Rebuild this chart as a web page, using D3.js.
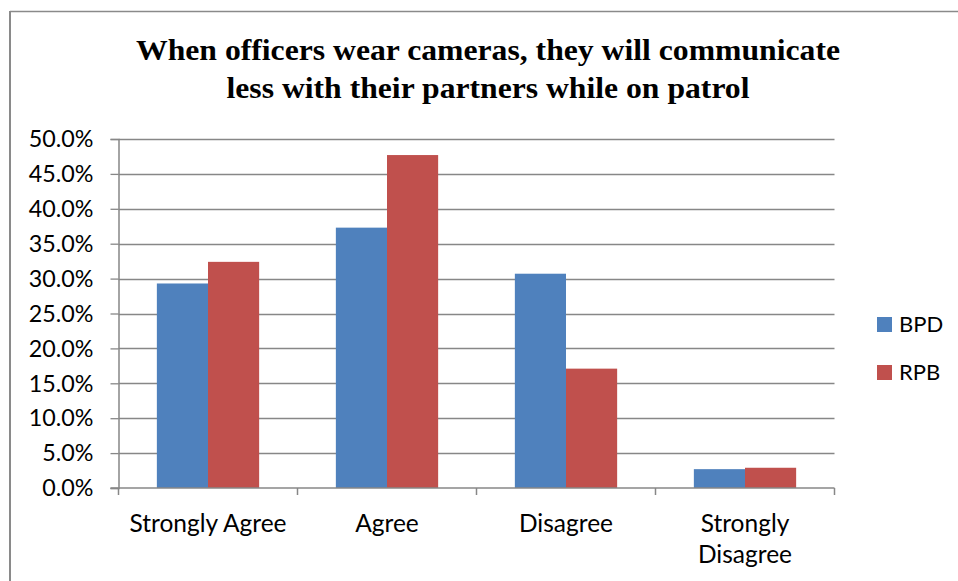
<!DOCTYPE html>
<html>
<head>
<meta charset="utf-8">
<script src="https://cdn.jsdelivr.net/npm/d3@7"></script>
<style>
  html, body { margin: 0; padding: 0; background: #fff; }
  svg { display: block; }
</style>
</head>
<body>
<svg id="chart" width="958" height="581"></svg>
<script>
// Survey responses, percent of officers
const categories = ["Strongly Agree", "Agree", "Disagree", "Strongly Disagree"];
const seriesNames = ["BPD", "RPB"];
const bpdValues = [29.3, 37.3, 30.7, 2.7];
const rpbValues = [32.4, 47.7, 17.1, 2.9];
const yTicks = [0, 5, 10, 15, 20, 25, 30, 35, 40, 45, 50];
const titleLines = [
  "When officers wear cameras, they will communicate",
  "less with their partners while on patrol"
];
const titleWidths = [704, 523];
const colors = { BPD: "#4F81BD", RPB: "#C0504D" };

const rows = categories.map((c, i) => ({ category: c, BPD: bpdValues[i], RPB: rpbValues[i] }));

const svg = d3.select("#chart");
const plot = { left: 118.5, right: 834.5, top: 139, bottom: 488 };
const labelFont = "Lato, 'Open Sans', sans-serif";
const gridColor = "#878787";

// chart frame edges
svg.append("line").attr("x1", 10).attr("x2", 958).attr("y1", 11.5).attr("y2", 11.5)
  .attr("stroke", "#8a8a8a").attr("stroke-width", 1.5);
svg.append("line").attr("x1", 10).attr("x2", 10).attr("y1", 11).attr("y2", 581)
  .attr("stroke", "#8a8a8a").attr("stroke-width", 2);

// title, slightly widened serif lines
svg.append("g").selectAll("text").data(titleLines).join("text")
  .attr("x", 488).attr("y", (d, i) => 59.5 + i * 38)
  .attr("text-anchor", "middle")
  .attr("font-family", "'Liberation Serif', 'Times New Roman', serif")
  .attr("font-weight", "bold").attr("font-size", 29.5)
  .attr("textLength", (d, i) => titleWidths[i])
  .attr("lengthAdjust", "spacingAndGlyphs")
  .attr("fill", "#000").text(d => d);

const x = d3.scaleBand().domain(categories).range([plot.left, plot.right]).padding(0);
const xs = d3.scaleBand().domain(seriesNames).range([0, x.bandwidth()])
  .paddingInner(0).paddingOuter(0.75);
const y = d3.scaleLinear().domain([0, 50]).range([plot.bottom, plot.top]);

// horizontal gridlines
svg.append("g").selectAll("line").data(yTicks.filter(t => t > 0)).join("line")
  .attr("x1", plot.left).attr("x2", plot.right)
  .attr("y1", d => Math.round(y(d)) + 0.5).attr("y2", d => Math.round(y(d)) + 0.5)
  .attr("stroke", gridColor).attr("stroke-width", 1.3);

// bars
const groups = svg.append("g").selectAll("g").data(rows).join("g")
  .attr("transform", d => `translate(${x(d.category)},0)`);
groups.selectAll("rect").data(d => seriesNames.map(s => ({ s, v: d[s] }))).join("rect")
  .attr("x", d => xs(d.s)).attr("width", xs.bandwidth())
  .attr("y", d => y(d.v)).attr("height", d => y(0) - y(d.v))
  .attr("fill", d => colors[d.s]);

// y axis
const yAxis = svg.append("g").attr("transform", `translate(${plot.left},0)`)
  .call(d3.axisLeft(y).tickValues(yTicks).tickFormat(d => d.toFixed(1) + "%").tickSize(8).tickPadding(17));
yAxis.select(".domain").attr("stroke", gridColor).attr("stroke-width", 1.5);
yAxis.selectAll(".tick line").attr("stroke", gridColor).attr("stroke-width", 1.3);
yAxis.selectAll(".tick text").attr("font-family", labelFont).attr("font-size", 23.3)
  .attr("fill", "#000").attr("dy", "0.33em");

// x axis with ticks on category boundaries
const xAxisG = svg.append("g").attr("transform", `translate(0,${plot.bottom})`);
xAxisG.append("line").attr("x1", plot.left - 8).attr("x2", plot.right).attr("y1", 0).attr("y2", 0)
  .attr("stroke", gridColor).attr("stroke-width", 1.5);
const boundaries = categories.map(c => x(c)).concat([plot.right]);
xAxisG.selectAll("line.tk").data(boundaries).join("line").attr("class", "tk")
  .attr("x1", d => d).attr("x2", d => d).attr("y1", 0).attr("y2", 7)
  .attr("stroke", gridColor).attr("stroke-width", 1.5);

const catLabels = xAxisG.selectAll("text.cat").data(categories).join("text").attr("class", "cat")
  .attr("x", d => x(d) + x.bandwidth() / 2).attr("y", 44)
  .attr("text-anchor", "middle").attr("font-family", labelFont).attr("font-size", 24.5)
  .attr("fill", "#000");
// wrap labels that are wider than their band
catLabels.each(function (d) {
  const t = d3.select(this);
  t.text(d);
  if (this.getComputedTextLength() > x.bandwidth() - 10) {
    const words = d.split(" ");
    t.text(null);
    words.forEach((w, i) => {
      t.append("tspan").attr("x", x(d) + x.bandwidth() / 2).attr("dy", i === 0 ? 0 : 31).text(w);
    });
  }
});

// legend
const legend = svg.append("g").selectAll("g").data(seriesNames).join("g")
  .attr("transform", (d, i) => `translate(877,${317 + i * 48})`);
legend.append("rect").attr("width", 15).attr("height", 15).attr("fill", d => colors[d]);
legend.append("text").attr("x", 22).attr("y", 14.5)
  .attr("font-family", labelFont).attr("font-size", 22).attr("fill", "#000").text(d => d);
</script>
</body>
</html>
